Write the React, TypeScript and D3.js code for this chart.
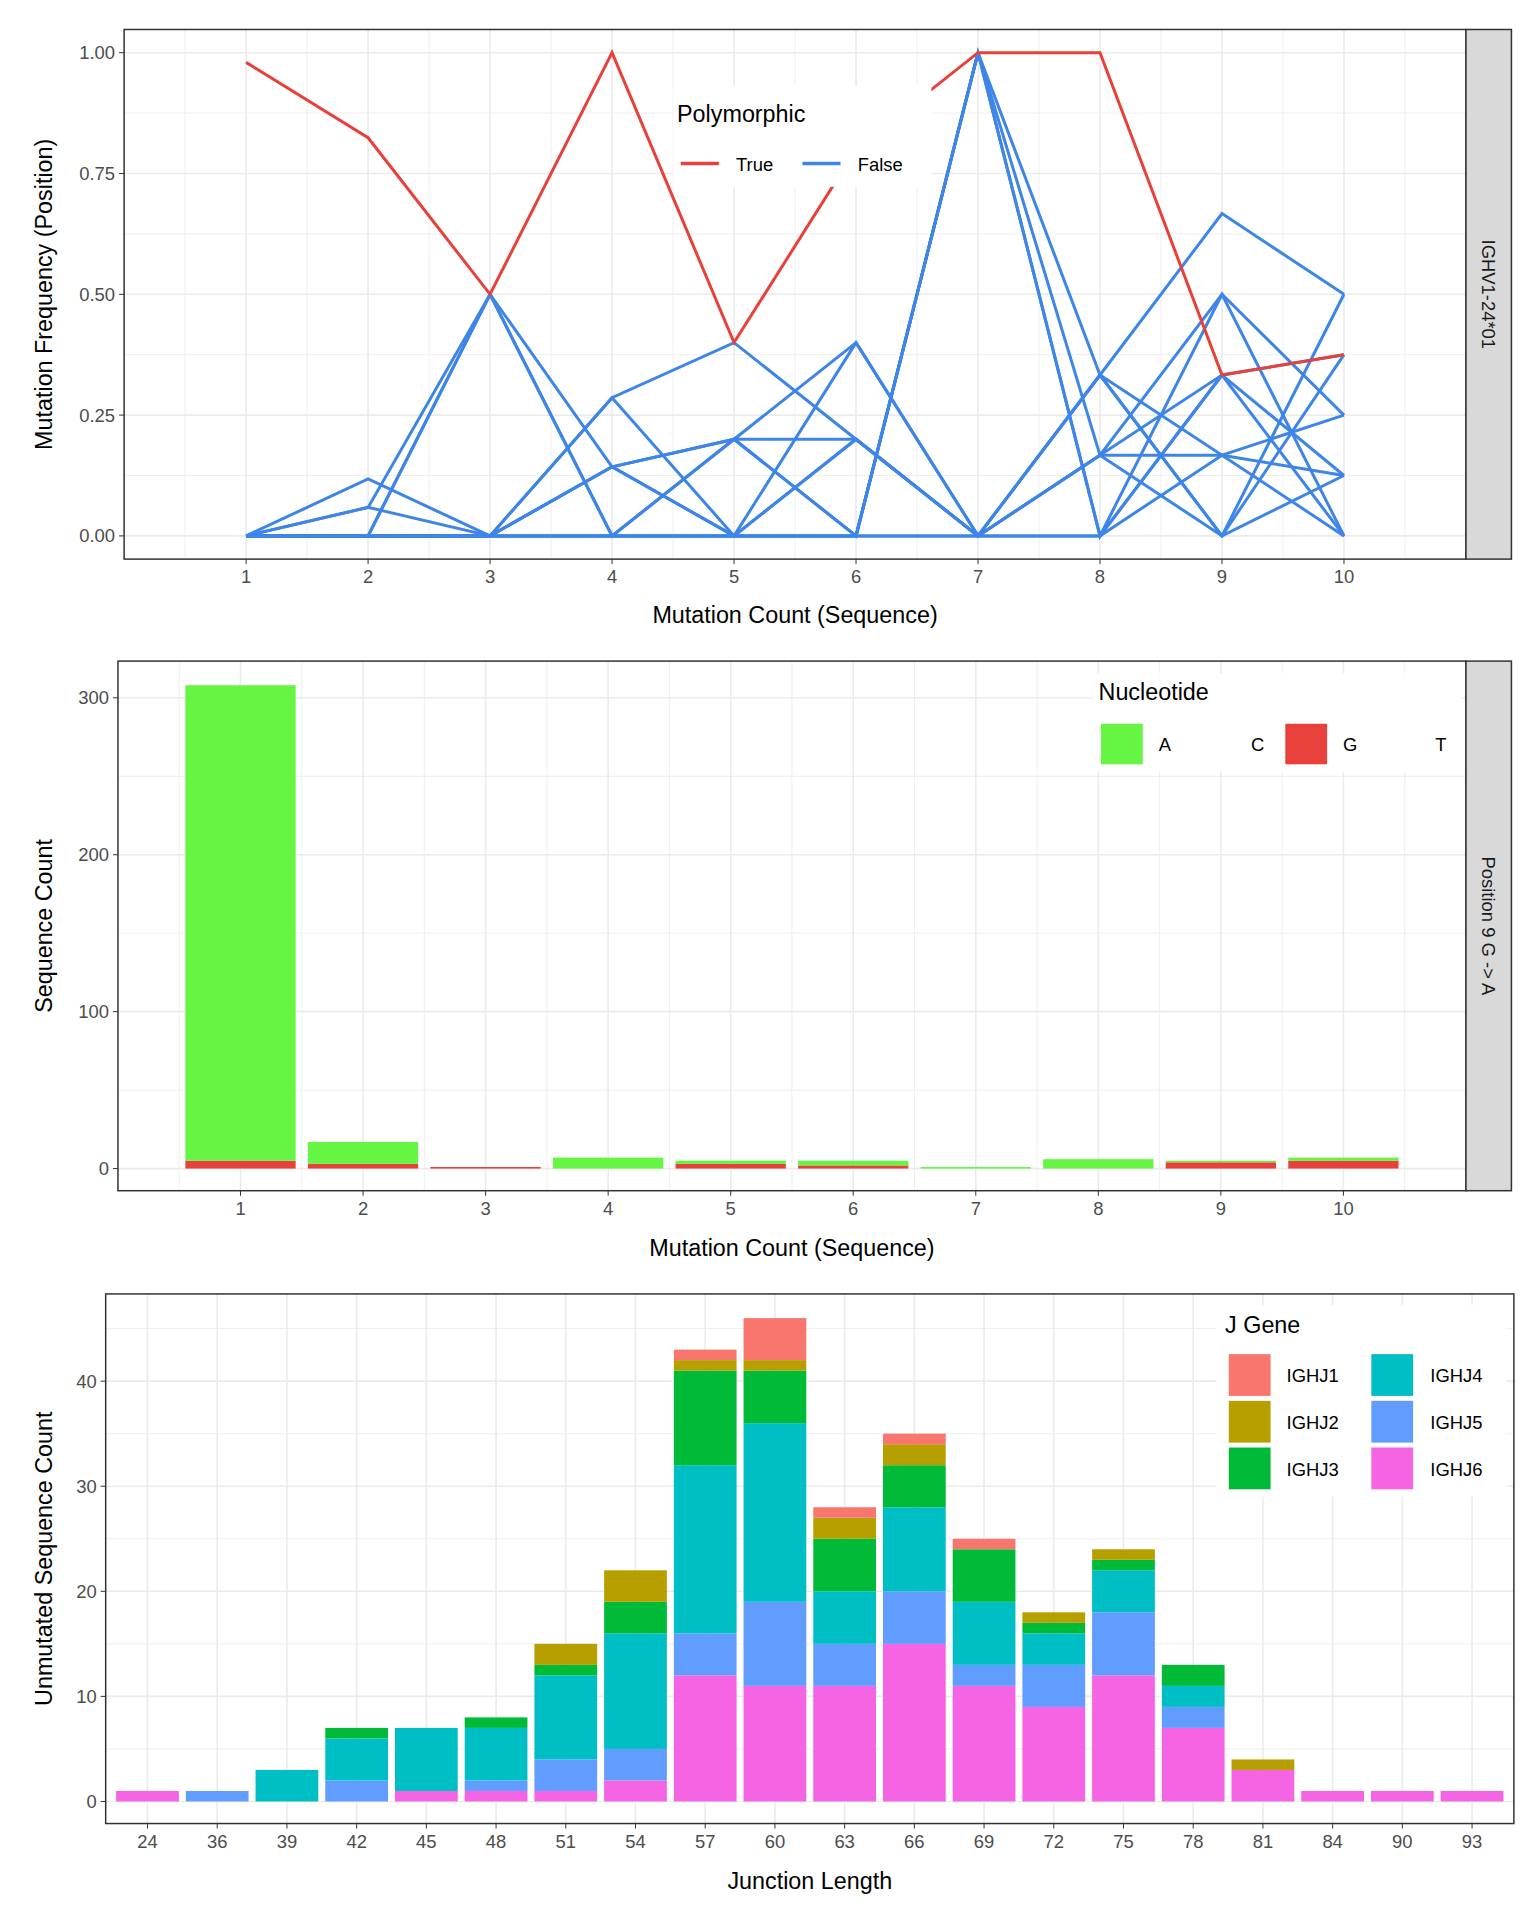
import * as d3 from "d3"

const S = 1.2288
const FONT = "Liberation Sans, Arial, sans-serif"

// panel 1: mutation frequency lines
const mutCounts = [1, 2, 3, 4, 5, 6, 7, 8, 9, 10]
const polyTrue = [0.98, 0.824, 0.5, 1.0, 0.4, 0.8, 1.0, 1.0, 0.333, 0.375]
const polyFalse = [
  [0, 0.118, 0, 0.286, 0.4, 0.2, 0, 0.333, 0.667, 0.5],
  [0, 0.059, 0, 0.143, 0.2, 0.4, 0, 0.167, 0.5, 0],
  [0, 0.059, 0.5, 0, 0.2, 0, 1.0, 0, 0.333, 0.375],
  [0, 0, 0.5, 0, 0, 0.2, 0, 0.333, 0.167, 0.25],
  [0, 0, 0.5, 0.143, 0, 0, 1.0, 0.167, 0.333, 0.125],
  [0, 0, 0, 0.286, 0, 0.4, 0, 0.333, 0, 0.375],
  [0, 0, 0, 0.143, 0.2, 0.2, 0, 0.167, 0.167, 0.125],
  [0, 0, 0, 0, 0.2, 0, 1.0, 0, 0.5, 0.25],
  [0, 0, 0, 0, 0, 0, 0, 0.167, 0, 0.5],
  [0, 0, 0, 0.143, 0, 0.2, 0, 0, 0.167, 0],
  [0, 0, 0, 0, 0, 0, 1.0, 0.333, 0, 0.125],
  [0, 0, 0, 0, 0, 0, 0, 0, 0.333, 0],
]

// panel 2: nucleotide counts
const countG = [5, 3, 1, 0, 3, 2, 0, 0, 4, 5]
const countA = [303, 14, 0, 7, 2, 3, 1, 6, 1, 2]

// panel 3: junction length by J gene
const junctionLengths = ["24", "36", "39", "42", "45", "48", "51", "54", "57", "60", "63", "66", "69", "72", "75", "78", "81", "84", "90", "93"]
const jGenes = ["IGHJ1", "IGHJ2", "IGHJ3", "IGHJ4", "IGHJ5", "IGHJ6"]
const jColors = ["#F8766D", "#B79F00", "#00BA38", "#00BFC4", "#619CFF", "#F564E3"]
const ighj1 = [0, 0, 0, 0, 0, 0, 0, 0, 1, 4, 1, 1, 1, 0, 0, 0, 0, 0, 0, 0]
const ighj2 = [0, 0, 0, 0, 0, 0, 2, 3, 1, 1, 2, 2, 0, 1, 1, 0, 1, 0, 0, 0]
const ighj3 = [0, 0, 0, 1, 0, 1, 1, 3, 9, 5, 5, 4, 5, 1, 1, 2, 0, 0, 0, 0]
const ighj4 = [0, 0, 3, 4, 6, 5, 8, 11, 16, 17, 5, 8, 6, 3, 4, 2, 0, 0, 0, 0]
const ighj5 = [0, 1, 0, 2, 0, 1, 3, 3, 4, 8, 4, 5, 2, 4, 6, 2, 0, 0, 0, 0]
const ighj6 = [1, 0, 0, 0, 1, 1, 1, 2, 12, 11, 11, 15, 11, 9, 12, 7, 3, 1, 1, 1]

const RED = "#E8403A"
const BLUE = "#3D85E8"
const GREEN = "#66F542"

function Frame({ x0, x1, y0, y1, strip }: any) {
  return (
    <g>
      <rect x={x0} y={y0} width={x1 - x0} height={y1 - y0} fill="none" stroke="#333" strokeWidth={1.5} />
      {strip && (
        <g>
          <rect x={x1} y={y0} width={37 * S} height={y1 - y0} fill="#D9D9D9" stroke="#333" strokeWidth={1.5} />
          <text transform={`translate(${x1 + 13 * S},${(y0 + y1) / 2}) rotate(90)`} textAnchor="middle"
            fontSize={15 * S} fill="#1a1a1a">{strip}</text>
        </g>
      )}
    </g>
  )
}

function Panel1() {
  const x0 = 101 * S, x1 = 1193 * S, y0 = 24 * S, y1 = 455 * S
  const x = d3.scaleLinear().domain([0, 11]).range([x0, x1])
  const y = d3.scaleLinear().domain([-0.048, 1.048]).range([y1, y0])
  const line = d3.line<number>().x((_, i) => x(mutCounts[i])).y((d) => y(d))
  const yt = [0, 0.25, 0.5, 0.75, 1]
  const minorX = d3.range(0.5, 11, 1)
  const minorY = [0.125, 0.375, 0.625, 0.875]
  return (
    <g>
      {minorX.map((v) => <line key={"mx" + v} x1={x(v)} x2={x(v)} y1={y0} y2={y1} stroke="#EBEBEB" strokeWidth={0.8} />)}
      {minorY.map((v) => <line key={"my" + v} x1={x0} x2={x1} y1={y(v)} y2={y(v)} stroke="#EBEBEB" strokeWidth={0.8} />)}
      {mutCounts.map((v) => <line key={"gx" + v} x1={x(v)} x2={x(v)} y1={y0} y2={y1} stroke="#EBEBEB" strokeWidth={1.6} />)}
      {yt.map((v) => <line key={"gy" + v} x1={x0} x2={x1} y1={y(v)} y2={y(v)} stroke="#EBEBEB" strokeWidth={1.6} />)}
      {polyFalse.map((d, i) => <path key={i} d={line(d) || ""} fill="none" stroke={BLUE} strokeWidth={3} />)}
      <path d={line(polyTrue) || ""} fill="none" stroke={RED} strokeWidth={3} />
      <Frame x0={x0} x1={x1} y0={y0} y1={y1} strip="IGHV1-24*01" />
      {yt.map((v) => (
        <g key={"ty" + v}>
          <line x1={x0 - 5} x2={x0} y1={y(v)} y2={y(v)} stroke="#333" />
          <text x={x0 - 9} y={y(v)} dy="0.35em" textAnchor="end" fontSize={15 * S} fill="#4D4D4D">{d3.format(".2f")(v)}</text>
        </g>
      ))}
      {mutCounts.map((v) => (
        <g key={"tx" + v}>
          <line x1={x(v)} x2={x(v)} y1={y1} y2={y1 + 5} stroke="#333" />
          <text x={x(v)} y={y1 + 24} textAnchor="middle" fontSize={15 * S} fill="#4D4D4D">{v}</text>
        </g>
      ))}
      <text x={(x0 + x1) / 2} y={507 * S} textAnchor="middle" fontSize={19 * S}>Mutation Count (Sequence)</text>
      <text transform={`translate(${42 * S},${(y0 + y1) / 2}) rotate(-90)`} textAnchor="middle" fontSize={19 * S}>Mutation Frequency (Position)</text>
      {/* legend */}
      <rect x={548 * S} y={70 * S} width={210 * S} height={82 * S} fill="white" />
      <text x={551 * S} y={99 * S} fontSize={19 * S}>Polymorphic</text>
      <line x1={554 * S} x2={585 * S} y1={133 * S} y2={133 * S} stroke={RED} strokeWidth={3.5} />
      <text x={599 * S} y={139 * S} fontSize={15 * S}>True</text>
      <line x1={653 * S} x2={684 * S} y1={133 * S} y2={133 * S} stroke={BLUE} strokeWidth={3.5} />
      <text x={698 * S} y={139 * S} fontSize={15 * S}>False</text>
    </g>
  )
}

function Panel2() {
  const x0 = 96 * S, x1 = 1193 * S, y0 = 538 * S, y1 = 969 * S
  const x = d3.scaleLinear().domain([0, 11]).range([x0, x1])
  const y = d3.scaleLinear().domain([-14.1, 323.4]).range([y1, y0])
  const yt = [0, 100, 200, 300]
  const bw = x(0.9) - x(0)
  return (
    <g>
      {d3.range(0.5, 11, 1).map((v) => <line key={"mx" + v} x1={x(v)} x2={x(v)} y1={y0} y2={y1} stroke="#EBEBEB" strokeWidth={0.8} />)}
      {[50, 150, 250].map((v) => <line key={"my" + v} x1={x0} x2={x1} y1={y(v)} y2={y(v)} stroke="#EBEBEB" strokeWidth={0.8} />)}
      {mutCounts.map((v) => <line key={"gx" + v} x1={x(v)} x2={x(v)} y1={y0} y2={y1} stroke="#EBEBEB" strokeWidth={1.6} />)}
      {yt.map((v) => <line key={"gy" + v} x1={x0} x2={x1} y1={y(v)} y2={y(v)} stroke="#EBEBEB" strokeWidth={1.6} />)}
      {mutCounts.map((m, i) => (
        <g key={"b" + m}>
          {countG[i] > 0 && <rect x={x(m) - bw / 2} y={y(countG[i])} width={bw} height={y(0) - y(countG[i])} fill={RED} />}
          {countA[i] > 0 && <rect x={x(m) - bw / 2} y={y(countG[i] + countA[i])} width={bw} height={y(countG[i]) - y(countG[i] + countA[i])} fill={GREEN} />}
        </g>
      ))}
      <Frame x0={x0} x1={x1} y0={y0} y1={y1} strip="Position 9 G -> A" />
      {yt.map((v) => (
        <g key={"ty" + v}>
          <line x1={x0 - 5} x2={x0} y1={y(v)} y2={y(v)} stroke="#333" />
          <text x={x0 - 9} y={y(v)} dy="0.35em" textAnchor="end" fontSize={15 * S} fill="#4D4D4D">{v}</text>
        </g>
      ))}
      {mutCounts.map((v) => (
        <g key={"tx" + v}>
          <line x1={x(v)} x2={x(v)} y1={y1} y2={y1 + 5} stroke="#333" />
          <text x={x(v)} y={y1 + 24} textAnchor="middle" fontSize={15 * S} fill="#4D4D4D">{v}</text>
        </g>
      ))}
      <text x={(x0 + x1) / 2} y={1022 * S} textAnchor="middle" fontSize={19 * S}>Mutation Count (Sequence)</text>
      <text transform={`translate(${42 * S},${(y0 + y1) / 2}) rotate(-90)`} textAnchor="middle" fontSize={19 * S}>Sequence Count</text>
      {/* legend */}
      <rect x={890 * S} y={548 * S} width={300 * S} height={80 * S} fill="white" />
      <text x={894 * S} y={570 * S} fontSize={19 * S}>Nucleotide</text>
      {[["A", GREEN], ["C", "white"], ["G", RED], ["T", "white"]].map(([lab, c], i) => (
        <g key={lab}>
          <rect x={(896 + i * 75) * S} y={589 * S} width={34 * S} height={33 * S} fill={c} />
          <text x={(943 + i * 75) * S} y={611 * S} fontSize={15 * S}>{lab}</text>
        </g>
      ))}
    </g>
  )
}

function Panel3() {
  const x0 = 86 * S, x1 = 1232 * S, y0 = 1053 * S, y1 = 1484 * S
  const step = (x1 - x0) / (junctionLengths.length - 1 + 1.2)
  const x = d3.scalePoint().domain(junctionLengths).range([x0 + 0.6 * step, x1 - 0.6 * step])
  const y = d3.scaleLinear().domain([-2.1, 48.3]).range([y1, y0])
  const yt = [0, 10, 20, 30, 40]
  const bw = 0.9 * step
  const table = junctionLengths.map((j, i) => ({
    j, IGHJ1: ighj1[i], IGHJ2: ighj2[i], IGHJ3: ighj3[i], IGHJ4: ighj4[i], IGHJ5: ighj5[i], IGHJ6: ighj6[i],
  }))
  const series = d3.stack<any>().keys([...jGenes].reverse())(table)
  return (
    <g>
      {[5, 15, 25, 35, 45].map((v) => <line key={"my" + v} x1={x0} x2={x1} y1={y(v)} y2={y(v)} stroke="#EBEBEB" strokeWidth={0.8} />)}
      {junctionLengths.map((v) => <line key={"gx" + v} x1={x(v)} x2={x(v)} y1={y0} y2={y1} stroke="#EBEBEB" strokeWidth={1.6} />)}
      {yt.map((v) => <line key={"gy" + v} x1={x0} x2={x1} y1={y(v)} y2={y(v)} stroke="#EBEBEB" strokeWidth={1.6} />)}
      {series.map((s) => (
        <g key={s.key} fill={jColors[jGenes.indexOf(s.key)]}>
          {s.map((d, i) => d[1] > d[0] && (
            <rect key={i} x={(x(junctionLengths[i]) || 0) - bw / 2} y={y(d[1])} width={bw} height={y(d[0]) - y(d[1])} />
          ))}
        </g>
      ))}
      <Frame x0={x0} x1={x1} y0={y0} y1={y1} />
      {yt.map((v) => (
        <g key={"ty" + v}>
          <line x1={x0 - 5} x2={x0} y1={y(v)} y2={y(v)} stroke="#333" />
          <text x={x0 - 9} y={y(v)} dy="0.35em" textAnchor="end" fontSize={15 * S} fill="#4D4D4D">{v}</text>
        </g>
      ))}
      {junctionLengths.map((v) => (
        <g key={"tx" + v}>
          <line x1={x(v)} x2={x(v)} y1={y1} y2={y1 + 5} stroke="#333" />
          <text x={x(v)} y={y1 + 24} textAnchor="middle" fontSize={15 * S} fill="#4D4D4D">{v}</text>
        </g>
      ))}
      <text x={(x0 + x1) / 2} y={1537 * S} textAnchor="middle" fontSize={19 * S}>Junction Length</text>
      <text transform={`translate(${42 * S},${(y0 + y1) / 2}) rotate(-90)`} textAnchor="middle" fontSize={19 * S}>Unmutated Sequence Count</text>
      {/* legend */}
      <rect x={990 * S} y={1062 * S} width={236 * S} height={156 * S} fill="white" />
      <text x={997 * S} y={1085 * S} fontSize={19 * S}>J Gene</text>
      {jGenes.map((g, i) => {
        const col = Math.floor(i / 3), row = i % 3
        return (
          <g key={g}>
            <rect x={(1000 + col * 116) * S} y={(1102 + row * 38) * S} width={34 * S} height={34 * S} fill={jColors[i]} />
            <text x={(1047 + col * 117) * S} y={(1125 + row * 38) * S} fontSize={15 * S}>{g}</text>
          </g>
        )
      })}
    </g>
  )
}

export default function App() {
  return (
    <svg width={1536} height={1920} style={{ position: "absolute", left: 0, top: 0, background: "white" }} fontFamily={FONT}>
      <rect width={1536} height={1920} fill="white" />
      <Panel1 />
      <Panel2 />
      <Panel3 />
    </svg>
  )
}
